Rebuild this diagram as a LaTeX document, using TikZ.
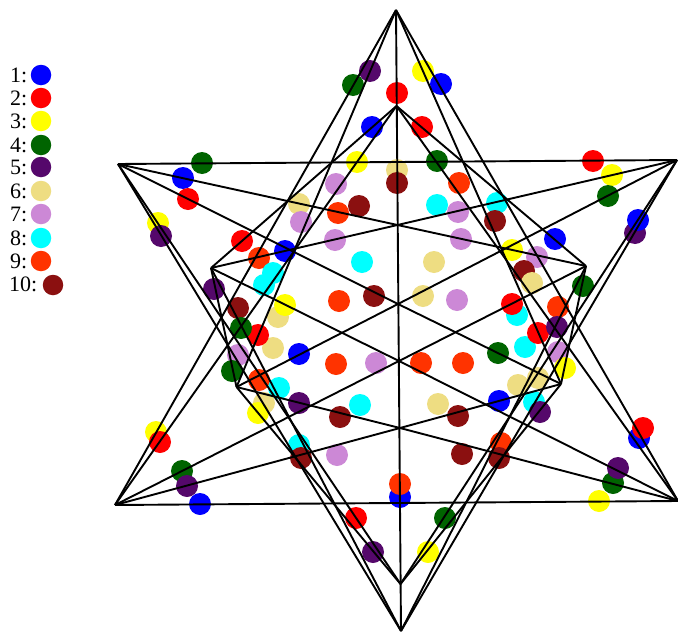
\documentclass[tikz,border=0pt]{standalone}
\usepackage{fontspec}
\setmainfont{Liberation Serif}
\definecolor{cblue}{HTML}{0000FF}
\definecolor{cred}{HTML}{FF0000}
\definecolor{cyellow}{HTML}{FFFF00}
\definecolor{cgreen}{HTML}{006400}
\definecolor{cpurple}{HTML}{55086B}
\definecolor{ckhaki}{HTML}{EEDD82}
\definecolor{corchid}{HTML}{CC88D6}
\definecolor{ccyan}{HTML}{00FFFF}
\definecolor{corange}{HTML}{FF3300}
\definecolor{cdarkred}{HTML}{8B1010}
\tikzset{
  spot/.style={circle,inner sep=0pt,minimum size=22pt},
  keyspot/.style={circle,inner sep=0pt,minimum size=20.5pt},
  keylabel/.style={anchor=base west,inner sep=0pt,font=\fontsize{22}{24}\selectfont},
  edge/.style={draw=black,line width=1.9pt,line join=round}
}
\newcommand{\putspots}[3]{%
  \foreach \px/\py [count=\n] in {#3}
    \node[spot,fill=#2] (#1-\n) at (\px,\py) {};
}
\begin{document}
\begin{tikzpicture}[x=1pt,y=-1pt]
\useasboundingbox (0,0) rectangle (678,632);
\fill[white] (0,0) rectangle (678,632);
% legend
\foreach \lab/\col/\yy in {1/cblue/75,2/cred/98,3/cyellow/121,4/cgreen/145,5/cpurple/167,6/ckhaki/191,7/corchid/214,8/ccyan/238,9/corange/261}{
  \node[keylabel] (t\lab) at (10,\yy+7) {\lab:};
  \node[keyspot,fill=\col] (k\lab) at (41,\yy) {};
}
\node[keylabel] (t10) at (9,291) {10:};
\node[keyspot,fill=cdarkred] (k10) at (53,285) {};
% dots, in stacking order
\putspots{a}{ckhaki}{397/170,299/204,278/317,273/348,264/403,434/262,423/296,518/385,538/378,438/404}
\putspots{b}{corchid}{336/184,301/222,335/240,238/355,376/363,337/455,458/212,461/239,537/257,457/300,558/352}
\putspots{c}{cyellow}{357/162,158/223,285/305,258/413,156/432,423/71,512/250,612/175,565/368,599/501,428/552}
\putspots{d}{cblue}{372/127,183/178,285/251,299/354,200/504,400/497,441/84,555/239,499/401,639/438}
\putspots{e}{corange}{338/213,259/258,339/301,336/364,259/380,400/484,459/183,558/307,421/363,463/363,501/443}
\putspots{f}{ccyan}{362/262,273/273,264/285,279/388,360/405,299/445,437/205,497/203,517/315,525/347,534/402}
\putspots{g}{cred}{397/93,188/199,242/241,258/335,160/442,356/518,422/127,593/161,512/304,538/333,643/428}
\putspots{h}{cdarkred}{397/183,359/206,374/296,238/308,340/417,301/458,495/221,524/271,458/416,462/454,499/458}
\putspots{i}{cgreen}{353/85,202/163,241/328,232/371,182/471,437/161,608/196,583/286,498/353,613/483,445/518}
\putspots{j}{cpurple}{370/71,161/236,214/289,299/403,187/486,373/552,635/233,557/327,540/412,618/468}
\putspots{m}{cblue}{638/220}
\putspots{n}{ckhaki}{532/283}
% vertices
\coordinate (T) at (396,10);
\coordinate (B) at (401,631);
\coordinate (L) at (118,164);
\coordinate (R) at (677,160);
\coordinate (BL) at (115,505);
\coordinate (BR) at (678,501);
\coordinate (Ti) at (396.5,106);
\coordinate (Bi) at (400.5,584);
\coordinate (UL) at (211,268);
\coordinate (UR) at (586,266);
\coordinate (LL) at (236.5,387);
\coordinate (LR) at (561,384);
\coordinate (c1) at (397.5,225);
\coordinate (c2) at (398,304);
\coordinate (c3) at (399,361);
\coordinate (c4) at (400,428);
% edges
\draw[edge] (T) -- (B);
\draw[edge] (L) -- (R);
\draw[edge] (BL) -- (BR);
\draw[edge] (T) -- (BL);
\draw[edge] (T) -- (BR);
\draw[edge] (T) -- (LL);
\draw[edge] (T) -- (LR);
\draw[edge] (Ti) -- (UL);
\draw[edge] (Ti) -- (UR);
\draw[edge] (Ti) -- (BL);
\draw[edge] (Ti) -- (BR);
\draw[edge] (B) -- (L);
\draw[edge] (B) -- (R);
\draw[edge] (B) -- (UL);
\draw[edge] (B) -- (UR);
\draw[edge] (Bi) -- (LL);
\draw[edge] (Bi) -- (LR);
\draw[edge] (Bi) -- (L);
\draw[edge] (Bi) -- (R);
\draw[edge] (L) -- (c1);
\draw[edge] (L) -- (c2);
\draw[edge] (R) -- (c1);
\draw[edge] (R) -- (c2);
\draw[edge] (BL) -- (c3);
\draw[edge] (BL) -- (c4);
\draw[edge] (BR) -- (c3);
\draw[edge] (BR) -- (c4);
\draw[edge] (UL) -- (c1);
\draw[edge] (UL) -- (c3);
\draw[edge] (UL) -- (LL);
\draw[edge] (UR) -- (c1);
\draw[edge] (UR) -- (c3);
\draw[edge] (UR) -- (LR);
\draw[edge] (LL) -- (c2);
\draw[edge] (LL) -- (c4);
\draw[edge] (LR) -- (c2);
\draw[edge] (LR) -- (c4);
\end{tikzpicture}
\end{document}
